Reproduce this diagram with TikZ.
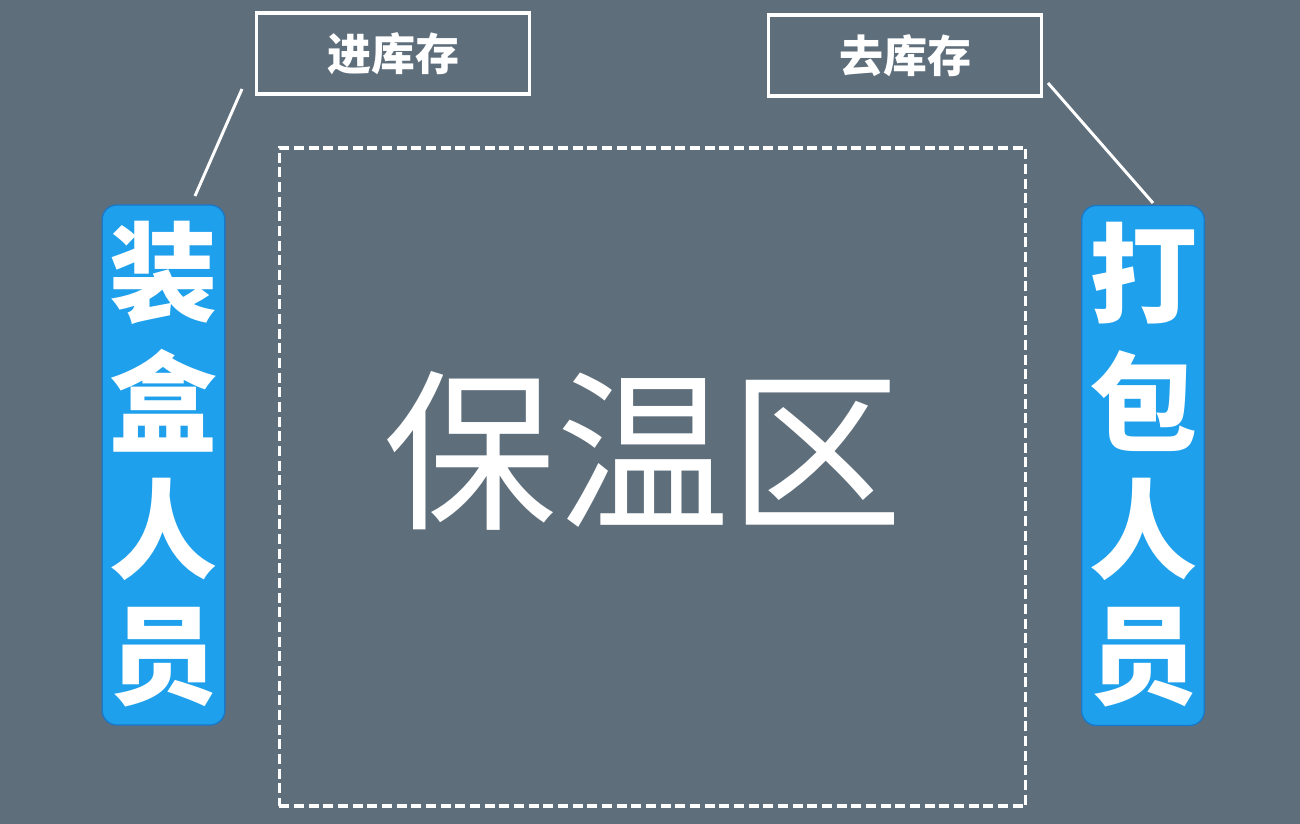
\documentclass[tikz,border=0pt]{standalone}
\usepackage{fontspec}
\newfontfamily\cjk{Noto Sans CJK SC}
\definecolor{bg}{HTML}{5E6E7B}
\definecolor{barblue}{HTML}{1FA0EC}
\definecolor{barborder}{HTML}{1A78C8}
\begin{document}
\begin{tikzpicture}[x=0.75pt,y=-0.75pt,
  labelbox/.style={draw=white,line width=2.6pt,minimum width=205pt,minimum height=61pt,inner sep=0pt,text=white,font=\cjk\bfseries\fontsize{33}{33}\selectfont},
  bar/.style={draw=barborder,fill=barblue,line width=1pt,rounded corners=11pt,minimum width=92pt,minimum height=390pt,inner sep=0pt},
  barchar/.style={text=white,font=\cjk\bfseries\fontsize{81}{81}\selectfont,inner sep=0pt},
  conn/.style={white,line width=2.2pt}]
\useasboundingbox (0,0) rectangle (1300,824);
\fill[bg] (0,0) rectangle (1300,824);
% dashed zone
\node[draw=white,line width=2.4pt,dash pattern=on 7.5pt off 3.5pt,minimum width=560pt,minimum height=493.5pt,inner sep=0pt] (zone) at (652.5,477) {};
\node[text=white,font=\cjk\fontsize{130}{130}\selectfont,inner sep=0pt] (zonetxt) at (643,451) {保温区};
% label boxes
\node[labelbox] (inbox) at (393,53.5) {进库存};
\node[labelbox] (outbox) at (905,55.5) {去库存};
% bars
\node[bar] (lbar) at (163.5,465) {};
\node[bar] (rbar) at (1143,465.5) {};
\node[barchar] (l1) at (163.5,273) {装};
\node[barchar] (l2) at (163.5,401) {盒};
\node[barchar] (l3) at (163.5,529) {人};
\node[barchar] (l4) at (163.5,657) {员};
\node[barchar] (r1) at (1143,273) {打};
\node[barchar] (r2) at (1143,401) {包};
\node[barchar] (r3) at (1143,529) {人};
\node[barchar] (r4) at (1143,657) {员};
% connectors
\coordinate (lc1) at (242,89);
\coordinate (lc2) at (195,196);
\coordinate (rc1) at (1048,83);
\coordinate (rc2) at (1153,203);
\draw[conn] (lc1) -- (lc2);
\draw[conn] (rc1) -- (rc2);
\end{tikzpicture}
\end{document}
